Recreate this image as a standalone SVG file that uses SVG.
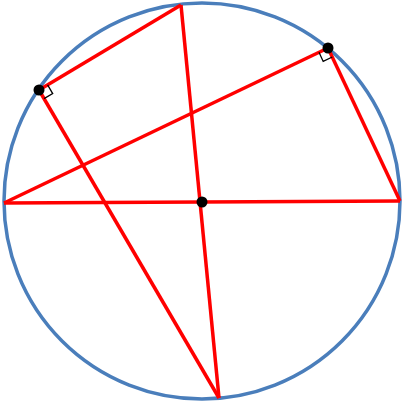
<svg xmlns="http://www.w3.org/2000/svg" width="404" height="404" viewBox="0 0 404 404">
<style>
.seg{stroke:#ff0000;stroke-width:3.5;fill:none;stroke-linecap:butt}
.ra{stroke:#000;stroke-width:1.3;fill:none}
.dot{fill:#000}
</style>
<rect width="404" height="404" fill="#fff"/>
<g id="circle"><circle cx="202" cy="201" r="198" fill="none" stroke="#4a7ebb" stroke-width="3.5"/></g>
<g id="connectors">
<line class="seg" x1="4" y1="203" x2="400" y2="201"/>
<line class="seg" x1="181" y1="5" x2="219" y2="398"/>
<line class="seg" x1="39" y1="90" x2="181" y2="5"/>
<line class="seg" x1="39" y1="90" x2="219" y2="398"/>
<line class="seg" x1="328" y1="48" x2="4" y2="203"/>
<line class="seg" x1="328" y1="48" x2="400" y2="201"/>
</g>
<g id="right-angles">
<polyline class="ra" points="47.6,84.9 52.7,93.6 44,98.6"/>
<polyline class="ra" points="319,52.3 323.2,61.4 332.3,57"/>
</g>
<g id="points">
<circle class="dot" cx="39" cy="90" r="5.5"/>
<circle class="dot" cx="328" cy="48" r="5.5"/>
<circle class="dot" cx="202" cy="202" r="5.5"/>
</g>
</svg>
